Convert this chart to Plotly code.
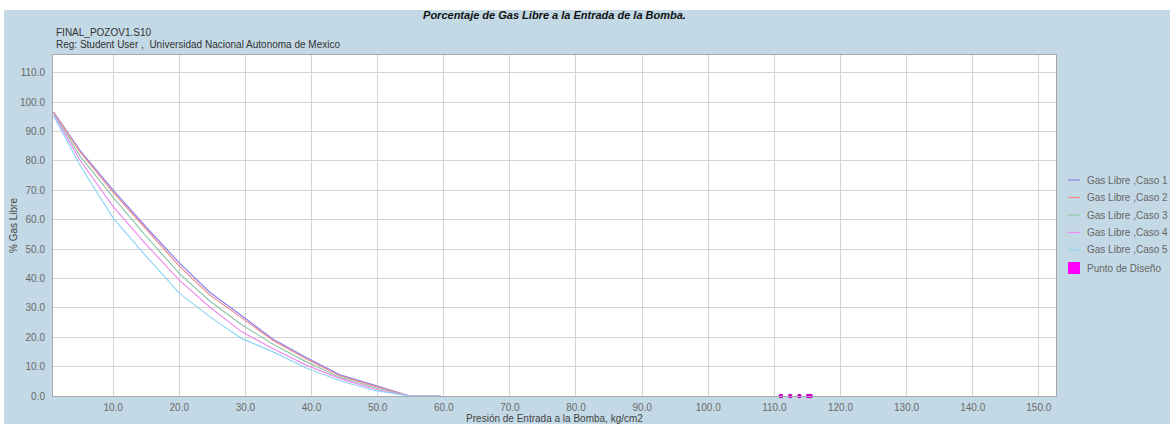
import plotly.graph_objects as go

# Pump-intake free-gas curves for five cases
presion = [1.0, 5.0, 10.0, 15.0, 20.0, 24.6, 29.4, 34.2, 39.2, 44.3, 49.6, 54.9, 59.5]
gas_caso1 = [96.6, 83.5, 70.0, 57.4, 45.3, 35.3, 27.4, 19.3, 13.1, 7.2, 3.6, 0.0, 0.0]
gas_caso2 = [96.5, 83.0, 69.3, 56.6, 44.2, 34.4, 26.5, 18.9, 12.6, 6.9, 3.3, 0.0, 0.0]
gas_caso3 = [96.2, 81.6, 67.6, 54.3, 41.7, 32.3, 24.3, 17.6, 11.6, 6.4, 2.8, 0.0, 0.0]
gas_caso4 = [95.8, 80.2, 64.4, 51.5, 39.4, 30.3, 21.9, 16.1, 10.5, 5.9, 2.3, 0.0, 0.0]
gas_caso5 = [95.3, 78.4, 60.5, 47.5, 35.0, 27.0, 19.6, 15.0, 9.5, 5.2, 1.8, 0.0, 0.0]

# Design points (pressure, % free gas)
diseno_presion = [111.0, 112.4, 113.8, 115.1, 115.5]
diseno_gas = [0.0, 0.0, 0.0, 0.0, 0.0]

series_names = ["Gas Libre ,Caso 1", "Gas Libre ,Caso 2", "Gas Libre ,Caso 3",
                "Gas Libre ,Caso 4", "Gas Libre ,Caso 5"]
series_values = [gas_caso1, gas_caso2, gas_caso3, gas_caso4, gas_caso5]
series_colors = ["#8a80f2", "#ee8a8a", "#8fc7a8", "#f08af0", "#8fd6f5"]
diseno_name = "Punto de Diseño"
diseno_color = "#cc00cc"

x_ticks = [10, 20, 30, 40, 50, 60, 70, 80, 90, 100, 110, 120, 130, 140, 150]
y_ticks = [0, 10, 20, 30, 40, 50, 60, 70, 80, 90, 100, 110]

W, H = 1170, 425
L, R, T, B = 53, 114, 55, 29
PW, PH = W - L - R, H - T - B
BG = "#c3d9e5"
FONT = "Liberation Sans, Arial, sans-serif"


def fx(p):
    return (p - L) / PW


def fy(p):
    return (H - B - p) / PH


fig = go.Figure()
for name, vals, col in zip(series_names, series_values, series_colors):
    fig.add_trace(go.Scatter(x=presion, y=vals, mode="lines", name=name,
                             line=dict(color=col, width=1.2), showlegend=False,
                             cliponaxis=False))
fig.add_trace(go.Scatter(x=diseno_presion, y=diseno_gas, mode="markers", name=diseno_name,
                         marker=dict(color=diseno_color, size=4.5, symbol="circle"),
                         showlegend=False, cliponaxis=False))

shapes = [
    # white strips framing the panel
    dict(type="rect", xref="paper", yref="paper", x0=fx(0), x1=fx(W), y0=fy(10), y1=fy(0),
         fillcolor="white", line_width=0, layer="below"),
    dict(type="rect", xref="paper", yref="paper", x0=fx(0), x1=fx(4), y0=fy(H), y1=fy(0),
         fillcolor="white", line_width=0, layer="below"),
    dict(type="rect", xref="paper", yref="paper", x0=fx(0), x1=fx(W), y0=fy(H), y1=fy(424),
         fillcolor="white", line_width=0, layer="below"),
]
annotations = [
    dict(text="FINAL_POZOV1.S10", xref="paper", yref="paper", x=fx(54), y=fy(32),
         xanchor="left", yanchor="middle", showarrow=False,
         font=dict(family=FONT, size=10, color="#333333")),
    dict(text="Reg: Student User ,  Universidad Nacional Autonoma de Mexico", xref="paper",
         yref="paper", x=fx(54), y=fy(44), xanchor="left", yanchor="middle", showarrow=False,
         font=dict(family=FONT, size=10, color="#333333")),
]

# legend drawn beside the plot
leg_y = [180, 197.5, 215, 232.5, 250, 268]
for i, (name, col) in enumerate(zip(series_names, series_colors)):
    shapes.append(dict(type="line", xref="paper", yref="paper", x0=fx(1068), x1=fx(1080),
                       y0=fy(leg_y[i]), y1=fy(leg_y[i]), line=dict(color=col, width=1.2)))
    annotations.append(dict(text=name, xref="paper", yref="paper", x=fx(1085), y=fy(leg_y[i]),
                            xanchor="left", yanchor="middle", showarrow=False,
                            font=dict(family=FONT, size=10, color="#666666")))
shapes.append(dict(type="rect", xref="paper", yref="paper", x0=fx(1068), x1=fx(1080),
                   y0=fy(leg_y[5] + 6), y1=fy(leg_y[5] - 6), fillcolor="#ff00ff", line_width=0))
annotations.append(dict(text=diseno_name, xref="paper", yref="paper", x=fx(1085), y=fy(leg_y[5]),
                        xanchor="left", yanchor="middle", showarrow=False,
                        font=dict(family=FONT, size=10, color="#666666")))

fig.update_layout(
    width=W, height=H,
    margin=dict(l=L, r=R, t=T, b=B, pad=0),
    paper_bgcolor=BG, plot_bgcolor="white",
    font=dict(family=FONT, size=10, color="#666666"),
    title=dict(text="<b><i>Porcentaje de Gas Libre a la Entrada de la Bomba.</i></b>",
               x=fx((L + W - R) / 2), xref="paper", xanchor="center",
               y=1 - 15 / H, yref="container", yanchor="middle",
               font=dict(family=FONT, size=11, color="#111111")),
    shapes=shapes, annotations=annotations, showlegend=False,
)
fig.update_xaxes(
    range=[0.9, 152.6], tickvals=x_ticks, tickformat=".1f",
    showgrid=True, gridcolor="#d4d4d4", gridwidth=1,
    showline=True, linecolor="#a8a8a8", linewidth=1, mirror=True,
    ticks="", ticklabelstandoff=2, zeroline=False, automargin=False,
    tickfont=dict(family=FONT, size=10, color="#6a6a6a"),
    title=dict(text="Presión de Entrada a la Bomba, kg/cm2", standoff=1,
               font=dict(family=FONT, size=10, color="#444444")),
)
fig.update_yaxes(
    range=[0, 116], tickvals=y_ticks, tickformat=".1f",
    showgrid=True, gridcolor="#d4d4d4", gridwidth=1,
    showline=True, linecolor="#a8a8a8", linewidth=1, mirror=True,
    ticks="", ticklabelstandoff=5, zeroline=False, automargin=False,
    tickfont=dict(family=FONT, size=10, color="#6a6a6a"),
    title=dict(text="% Gas Libre", standoff=0,
               font=dict(family=FONT, size=10, color="#444444")),
)

fig.write_html("out.html")
